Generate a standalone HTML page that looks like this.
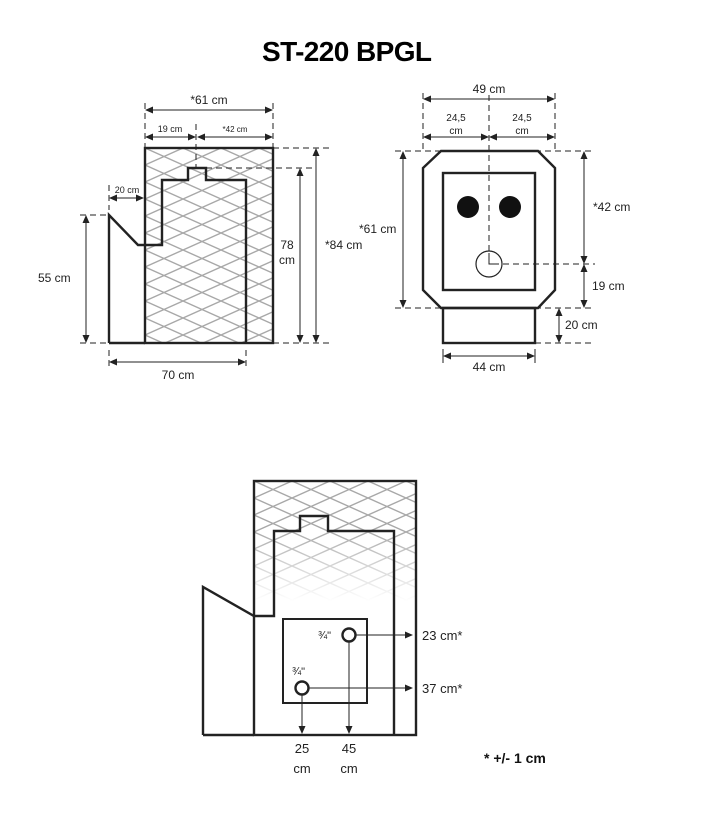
<!DOCTYPE html>
<html><head><meta charset="utf-8"><style>
html,body{margin:0;padding:0;background:#fff;}
svg{display:block;}
text{font-family:"Liberation Sans",sans-serif;fill:#222;}
</style></head><body>
<svg width="715" height="834" viewBox="0 0 715 834" xmlns="http://www.w3.org/2000/svg">
<defs>
<pattern id="h" x="145" y="148" width="38" height="17" patternUnits="userSpaceOnUse">
<path d="M-2,-0.9 L40,17.9 M-2,17.9 L40,-0.9" stroke="#a8a8a8" stroke-width="1.4" fill="none"/>
</pattern>
<pattern id="h2" x="254" y="481" width="38" height="17" patternUnits="userSpaceOnUse">
<path d="M-2,-0.9 L40,17.9 M-2,17.9 L40,-0.9" stroke="#a8a8a8" stroke-width="1.4" fill="none"/>
</pattern>
<linearGradient id="g" x1="0" y1="0" x2="0" y2="1">
<stop offset="0" stop-color="#fff"/><stop offset="0.4" stop-color="#fff"/><stop offset="1" stop-color="#000"/>
</linearGradient>
<mask id="m"><rect x="254" y="481" width="162" height="120" fill="url(#g)"/></mask>
<marker id="a" markerWidth="8" markerHeight="8" refX="7" refY="4" orient="auto-start-reverse" markerUnits="userSpaceOnUse">
<path d="M0,0.5 L8,4 L0,7.5z" fill="#222"/></marker>
</defs>

<text x="347" y="61" font-size="28" font-weight="bold" text-anchor="middle" textLength="170" style="fill:#000">ST-220 BPGL</text>

<!-- LEFT DRAWING -->
<rect x="145" y="148" width="128" height="195" fill="url(#h)"/>
<g fill="none" stroke="#222" stroke-width="2.4">
<rect x="145" y="148" width="128" height="195"/>
<path d="M109,343 V215 L138,245 H162 V180 H188 V168 H206 V180 H246 V343"/>
<path d="M109,343 H145"/>
</g>
<g stroke="#222" stroke-width="1" fill="none">
<g stroke-dasharray="6,4">
<path d="M145,103 V148 M273,103 V148 M196,124 V168"/>
<path d="M273,148 H332 M206,168 H312 M273,343 H332"/>
<path d="M80,215 H109 M80,343 H109"/>
<path d="M109,185 V210 M246,350 V366 M109,350 V366"/>
</g>
<path d="M146,110 H272" marker-start="url(#a)" marker-end="url(#a)"/>
<path d="M146,137 H195" marker-start="url(#a)" marker-end="url(#a)"/>
<path d="M198,137 H272" marker-start="url(#a)" marker-end="url(#a)"/>
<path d="M110,198 H143" marker-start="url(#a)" marker-end="url(#a)"/>
<path d="M86,216 V342" marker-start="url(#a)" marker-end="url(#a)"/>
<path d="M300,169 V342" marker-start="url(#a)" marker-end="url(#a)"/>
<path d="M316,149 V342" marker-start="url(#a)" marker-end="url(#a)"/>
<path d="M110,362 H245" marker-start="url(#a)" marker-end="url(#a)"/>
</g>
<text x="209" y="104" font-size="12" text-anchor="middle">*61 cm</text>
<text x="170" y="132" font-size="9" text-anchor="middle">19 cm</text>
<text x="235" y="132" font-size="8" text-anchor="middle">*42 cm</text>
<text x="127" y="193" font-size="9" text-anchor="middle">20 cm</text>
<text x="38" y="282" font-size="12">55 cm</text>
<text x="287" y="249" font-size="12" text-anchor="middle">78</text>
<text x="287" y="264" font-size="12" text-anchor="middle">cm</text>
<text x="325" y="249" font-size="12">*84 cm</text>
<text x="178" y="379" font-size="12" text-anchor="middle">70 cm</text>

<!-- RIGHT DRAWING -->
<g fill="none" stroke="#222" stroke-width="2.4">
<path d="M441,151 H538 L555,168 V290 L538,308 H441 L423,290 V168 Z"/>
<rect x="443" y="173" width="92" height="117"/>
<rect x="443" y="308" width="92" height="35"/>
</g>
<circle cx="468" cy="207" r="11" fill="#111"/>
<circle cx="510" cy="207" r="11" fill="#111"/>
<circle cx="489" cy="264" r="13" fill="#fff" stroke="#222" stroke-width="1.2"/>
<g stroke="#222" stroke-width="1" fill="none">
<path d="M489,253 V264 H499"/>
<g stroke-dasharray="6,4">
<path d="M489,95 V252 M423,93 V151 M555,93 V151"/>
<path d="M395,151 H595 M395,308 H595 M503,264 H595 M535,343 H595"/>
</g>
<path d="M424,99 H554" marker-start="url(#a)" marker-end="url(#a)"/>
<path d="M424,137 H488" marker-start="url(#a)" marker-end="url(#a)"/>
<path d="M490,137 H554" marker-start="url(#a)" marker-end="url(#a)"/>
<path d="M403,152 V307" marker-start="url(#a)" marker-end="url(#a)"/>
<path d="M584,152 V263" marker-start="url(#a)" marker-end="url(#a)"/>
<path d="M584,265 V307" marker-start="url(#a)" marker-end="url(#a)"/>
<path d="M559,309 V342" marker-start="url(#a)" marker-end="url(#a)"/>
<path d="M444,356 H534" marker-start="url(#a)" marker-end="url(#a)"/>
<path d="M443,349 V363 M535,349 V363"/>
</g>
<text x="489" y="93" font-size="12" text-anchor="middle">49 cm</text>
<text x="456" y="121" font-size="10" text-anchor="middle">24,5</text>
<text x="456" y="134" font-size="10" text-anchor="middle">cm</text>
<text x="522" y="121" font-size="10" text-anchor="middle">24,5</text>
<text x="522" y="134" font-size="10" text-anchor="middle">cm</text>
<text x="359" y="233" font-size="12">*61 cm</text>
<text x="593" y="211" font-size="12">*42 cm</text>
<text x="592" y="290" font-size="12">19 cm</text>
<text x="565" y="329" font-size="12">20 cm</text>
<text x="489" y="371" font-size="12" text-anchor="middle">44 cm</text>

<!-- BOTTOM DRAWING -->
<rect x="254" y="481" width="162" height="120" fill="url(#h2)" mask="url(#m)"/>
<g fill="none" stroke="#222" stroke-width="2.4">
<rect x="254" y="481" width="162" height="254"/>
<path d="M203,735 V587 L254,616 H274 V531 H300 V516 H328 V531 H394 V735"/>
<path d="M203,735 H254"/>
<rect x="283" y="619" width="84" height="84" stroke-width="2"/>
<circle cx="349" cy="635" r="6.5" fill="#fff"/>
<circle cx="302" cy="688" r="6.5" fill="#fff"/>
</g>
<g stroke="#222" stroke-width="1" fill="none">
<path d="M356,635 H412" marker-end="url(#a)"/>
<path d="M309,688 H412" marker-end="url(#a)"/>
<path d="M349,642 V733" marker-end="url(#a)"/>
<path d="M302,695 V733" marker-end="url(#a)"/>
</g>
<text x="318" y="639" font-size="11">¾"</text>
<text x="292" y="675" font-size="11">¾"</text>
<text x="422" y="640" font-size="13">23 cm*</text>
<text x="422" y="693" font-size="13">37 cm*</text>
<text x="302" y="753" font-size="13" text-anchor="middle">25</text>
<text x="302" y="773" font-size="13" text-anchor="middle">cm</text>
<text x="349" y="753" font-size="13" text-anchor="middle">45</text>
<text x="349" y="773" font-size="13" text-anchor="middle">cm</text>
<text x="484" y="763" font-size="14" font-weight="bold" style="fill:#111">* +/- 1 cm</text>
</svg>
</body></html>
